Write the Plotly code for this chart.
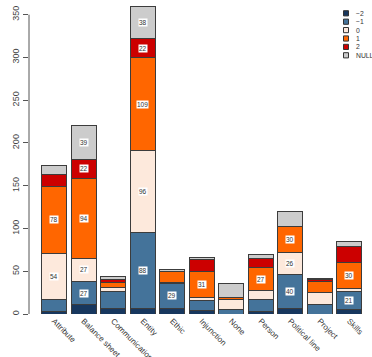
import plotly.graph_objects as go

categories = ["Attribute", "Balance sheet", "Communication", "Entity", "Ethic",
              "Injunction", "None", "Person", "Political line", "Project", "Skills"]
levels = ["\u22122", "\u22121", "0", "1", "2", "NULL"]

minus2 = [3, 11, 7, 7, 7, 4, 0, 3, 6, 0, 5]
minus1 = [14, 27, 19, 88, 29, 12, 5, 14, 40, 11, 21]
zero = [54, 27, 5, 96, 1, 3, 12, 10, 26, 14, 4]
plus1 = [78, 94, 6, 109, 13, 31, 2, 27, 30, 13, 30]
plus2 = [14, 22, 3, 22, 0, 14, 0, 11, 0, 2, 19]
null = [11, 39, 4, 38, 2, 2, 17, 5, 18, 1, 6]

series = [minus2, minus1, zero, plus1, plus2, null]
colors = ["#17375e", "#44739a", "#fde9dc", "#ff6600", "#cc0000", "#cccccc"]

FONT = "Liberation Sans, Arial, sans-serif"

# plot area in pixels (for the hand-drawn legend)
L, R, T, B = 29, 8, 1, 43
W, H = 372, 357
pw, ph = W - L - R, H - T - B


def px(x):
    return (x - L) / pw


def py(y):
    return (H - B - y) / ph


fig = go.Figure()
for name, vals, col in zip(levels, series, colors):
    fig.add_bar(
        x=categories, y=vals, name=name,
        marker=dict(color=col, line=dict(color="#3c3c3c", width=1)),
        showlegend=False, hoverinfo="skip",
    )

# value labels for the bigger segments
annotations = []
base = [0] * len(categories)
for vals in series:
    for i, v in enumerate(vals):
        if v >= 20:
            annotations.append(dict(
                x=categories[i], y=base[i] + v / 2, text=str(v), showarrow=False,
                font=dict(size=6.5, color="#333333", family=FONT),
                bgcolor="white", borderpad=0,
            ))
        base[i] += v

# legend drawn by hand (plotly's own one is too loose)
shapes = []
for k, (name, col) in enumerate(zip(levels, colors)):
    yc = 13.3 + k * 8.4
    shapes.append(dict(
        type="rect", xref="paper", yref="paper",
        x0=px(343.5), x1=px(348.5), y0=py(yc + 2.6), y1=py(yc - 2.6),
        fillcolor=col, line=dict(color="#333333", width=1),
    ))
    annotations.append(dict(
        x=px(353.5), y=py(yc), xref="paper", yref="paper", text=name,
        showarrow=False, xanchor="left", yanchor="middle",
        font=dict(size=6.8, color="#333333", family=FONT),
    ))

# R-style y axis line from 0 to 350
shapes.append(dict(type="line", xref="paper", yref="y", x0=0, x1=0, y0=0, y1=350,
                   line=dict(color="#555555", width=1)))

fig.update_layout(
    barmode="stack",
    bargap=0.15,
    width=W, height=H,
    margin=dict(l=L, r=R, t=T, b=B),
    plot_bgcolor="white", paper_bgcolor="white",
    font=dict(family=FONT),
    shapes=shapes,
    annotations=annotations,
    xaxis=dict(
        range=[-0.854, 10.5], showline=False, showgrid=False, zeroline=False,
        ticks="", tickangle=45, tickfont=dict(size=8, color="#333333"),
        automargin=False, ticklabelstandoff=0,
    ),
    yaxis=dict(
        range=[0, 366], tickvals=list(range(0, 351, 50)), tickangle=-90,
        ticks="outside", ticklen=5, tickcolor="#555555",
        showline=False, showgrid=False, zeroline=False,
        tickfont=dict(size=9, color="#444444"), automargin=False,
    ),
)

# drop the page's default body margin so the figure sits at the window corner
fig.write_html("out.html", config={"displayModeBar": False},
               post_script="document.body.style.margin = '0';")
